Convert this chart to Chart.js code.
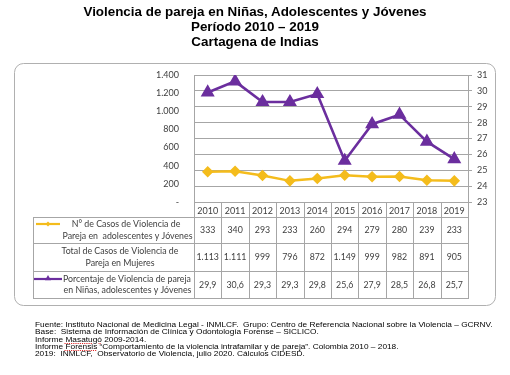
<!DOCTYPE html>
<html>
<head>
<meta charset="utf-8">
<script src="https://cdn.jsdelivr.net/npm/chart.js@4/dist/chart.umd.min.js"></script>
<style>
    body { margin: 0; background: #fff; }
    #wrap { position: relative; width: 510px; height: 375px; overflow: hidden; }
    #myChart { position: absolute; left: 0; top: 0; }
    #title {
        position: absolute; left: 0; top: 4px; width: 510px; text-align: center;
        font: bold 13.4px "Liberation Sans", Arial, sans-serif; line-height: 15px; color: #000;
    }
    #notes {
        position: absolute; left: 35px; top: 321px;
        font: 7.6px "Liberation Sans", Arial, sans-serif; line-height: 7.35px; color: #000;
        white-space: nowrap;
        transform: scaleX(1.093); transform-origin: 0 0;
    }
    .sp { text-decoration: underline dotted #e02020; text-decoration-thickness: 0.6px; text-underline-offset: 0.5px; }
</style>
</head>
<body>
<div id="wrap">
    <canvas id="myChart" width="510" height="375"></canvas>
    <div id="title">Violencia de pareja en Niñas, Adolescentes y Jóvenes<br>Período 2010 – 2019<br>Cartagena de Indias</div>
    <div id="notes">
        Fuente: Instituto Nacional de Medicina Legal - INMLCF.&nbsp; Grupo: Centro de Referencia Nacional sobre la Violencia – GCRNV.<br>
        Base:&nbsp; Sistema de Información de Clínica y Odontología Forense – SICLICO.<br>
        Informe <span class="sp">Masatugó</span> 2009-2014.<br>
        Informe <span class="sp">Forensis</span> “Comportamiento de la violencia intrafamilar y de pareja”. Colombia 2010 – 2018.<br>
        2019:&nbsp; INMLCF,&nbsp; Observatorio de Violencia, julio 2020. Cálculos CIDESD.
    </div>
</div>
<script>
        var years = ['2010', '2011', '2012', '2013', '2014', '2015', '2016', '2017', '2018', '2019'];
        var casosJovenes = [333, 340, 293, 233, 260, 294, 279, 280, 239, 233];
        var casosMujeres = [1113, 1111, 999, 796, 872, 1149, 999, 982, 891, 905];
        var porcentaje = [29.9, 30.6, 29.3, 29.3, 29.8, 25.6, 27.9, 28.5, 26.8, 25.7];

        var labelJovenes = ['N° de Casos de Violencia de', 'Pareja en  adolescentes y Jóvenes'];
        var labelMujeres = ['Total de Casos de Violencia de', 'Pareja en Mujeres'];
        var labelPorcentaje = ['Porcentaje de Violencia de pareja', 'en Niñas, adolescentes y Jóvenes'];

        var yellow = '#F4BC1C';
        var purple = '#6B2E9E';
        var lineGray = '#A6A6A6';
        var textGray = '#404040';
        var tableFont = '8.8px Lato, "Open Sans", sans-serif';

        // 1113 -> "1.113"
        function miles(v) {
            var s = String(v);
            return s.replace(/\B(?=(\d{3})+(?!\d))/g, '.');
        }
        function coma(v) {
            return v.toFixed(1).replace('.', ',');
        }

        function tri(ctx, x, y, r) {
            ctx.beginPath();
            ctx.moveTo(x, y - r);
            ctx.lineTo(x + r * 0.866, y + r * 0.5);
            ctx.lineTo(x - r * 0.866, y + r * 0.5);
            ctx.closePath();
            ctx.fill();
        }
        function diamond(ctx, x, y, r) {
            ctx.beginPath();
            ctx.moveTo(x - r, y);
            ctx.lineTo(x, y - r);
            ctx.lineTo(x + r, y);
            ctx.lineTo(x, y + r);
            ctx.closePath();
            ctx.fill();
        }

        // rounded frame behind the chart
        var framePlugin = {
            id: 'frame',
            beforeDraw: function (chart) {
                var ctx = chart.ctx;
                ctx.save();
                ctx.strokeStyle = '#B0B0B0';
                ctx.lineWidth = 1;
                ctx.beginPath();
                ctx.roundRect(14.5, 63.5, 481, 242, 9);
                ctx.stroke();
                ctx.restore();
            }
        };

        // data table under the plot
        var tablePlugin = {
            id: 'dataTable',
            afterDraw: function (chart) {
                var ctx = chart.ctx;
                var xs = chart.scales.x;
                var left = chart.chartArea.left;
                var right = chart.chartArea.right;
                var top = chart.chartArea.top;
                var bottom = chart.chartArea.bottom;
                var cw = (right - left) / years.length;
                var rows = [bottom, 217, 243, 271, 298];
                var labelLeft = 33;

                ctx.save();
                ctx.strokeStyle = lineGray;
                ctx.lineWidth = 1;
                ctx.beginPath();
                // plot sides
                ctx.moveTo(Math.round(left) + 0.5, top);
                ctx.lineTo(Math.round(left) + 0.5, rows[4]);
                ctx.moveTo(Math.round(right) + 0.5, top);
                ctx.lineTo(Math.round(right) + 0.5, rows[4]);
                // column separators
                for (var i = 1; i < years.length; i++) {
                    var x = Math.round(left + i * cw) + 0.5;
                    ctx.moveTo(x, rows[0]);
                    ctx.lineTo(x, rows[4]);
                }
                // horizontal rules
                for (var r = 1; r < rows.length; r++) {
                    ctx.moveTo(labelLeft, rows[r] + 0.5);
                    ctx.lineTo(Math.round(right) + 1, rows[r] + 0.5);
                }
                ctx.moveTo(labelLeft + 0.5, rows[1]);
                ctx.lineTo(labelLeft + 0.5, rows[4] + 1);
                ctx.stroke();

                // cell values
                ctx.fillStyle = textGray;
                ctx.font = tableFont;
                ctx.textAlign = 'center';
                ctx.textBaseline = 'middle';
                var series = [casosJovenes.map(miles), casosMujeres.map(miles), porcentaje.map(coma)];
                for (var s = 0; s < series.length; s++) {
                    var cy = (rows[s + 1] + rows[s + 2]) / 2 + 0.5;
                    for (var k = 0; k < years.length; k++) {
                        ctx.fillText(series[s][k], xs.getPixelForValue(k), cy);
                    }
                }

                // row labels
                var labels = [labelJovenes, labelMujeres, labelPorcentaje];
                var centers = [[126, 127.5], [120, 120], [127, 127.5]];
                for (var j = 0; j < labels.length; j++) {
                    var my = (rows[j + 1] + rows[j + 2]) / 2;
                    ctx.fillText(labels[j][0], centers[j][0], my - 5.5);
                    ctx.fillText(labels[j][1], centers[j][1], my + 6);
                }

                // legend keys
                ctx.lineWidth = 2.2;
                ctx.strokeStyle = yellow;
                ctx.fillStyle = yellow;
                ctx.beginPath();
                ctx.moveTo(36, 224);
                ctx.lineTo(60, 224);
                ctx.stroke();
                diamond(ctx, 48, 224, 2.5);

                ctx.strokeStyle = purple;
                ctx.fillStyle = purple;
                ctx.beginPath();
                ctx.moveTo(34, 279);
                ctx.lineTo(62, 279);
                ctx.stroke();
                tri(ctx, 48, 278.5, 3.5);
                ctx.restore();
            }
        };

        var ctx = document.getElementById('myChart').getContext('2d');
        var myChart = new Chart(ctx, {
            type: 'line',
            data: {
                labels: years,
                datasets: [
                    {
                        label: labelJovenes.join(' '),
                        data: casosJovenes,
                        yAxisID: 'y',
                        borderColor: yellow,
                        backgroundColor: yellow,
                        borderWidth: 2.5,
                        pointStyle: 'rectRot',
                        pointRadius: 4,
                        pointHoverRadius: 4,
                        tension: 0,
                    },
                    {
                        label: labelPorcentaje.join(' '),
                        data: porcentaje,
                        yAxisID: 'y1',
                        borderColor: purple,
                        backgroundColor: purple,
                        borderWidth: 2.6,
                        pointStyle: 'triangle',
                        pointRadius: 5.5,
                        pointHoverRadius: 5.5,
                        tension: 0,
                    }
                ]
            },
            options: {
                responsive: false,
                animation: false,
                layout: {
                    padding: { top: 75, left: 0, right: 0, bottom: 0 }
                },
                plugins: {
                    legend: { display: false },
                    tooltip: { enabled: false }
                },
                scales: {
                    x: {
                        offset: true,
                        grid: { display: false, tickLength: 0 },
                        border: { display: false },
                        ticks: {
                            color: textGray,
                            font: { family: 'Lato', size: 9 },
                            padding: 4,
                            maxRotation: 0,
                        },
                        afterFit: function (scale) { scale.height = 173; }
                    },
                    y: {
                        position: 'left',
                        min: 0,
                        max: 1400,
                        grid: { display: false, tickLength: 0 },
                        border: { display: false },
                        ticks: {
                            stepSize: 200,
                            color: textGray,
                            font: { family: 'Lato', size: 9 },
                            padding: 15,
                            callback: function (v) { return v === 0 ? '-' : miles(v); }
                        },
                        afterFit: function (scale) { scale.width = 194; }
                    },
                    y1: {
                        position: 'right',
                        min: 23,
                        max: 31,
                        grid: {
                            color: lineGray,
                            lineWidth: 1,
                            tickLength: 4,
                        },
                        border: { display: false },
                        ticks: {
                            stepSize: 1,
                            color: textGray,
                            font: { family: 'Lato', size: 9 },
                            padding: 5,
                        },
                        afterFit: function (scale) { scale.width = 42; }
                    }
                }
            },
            plugins: [framePlugin, tablePlugin]
        });
</script>
</body>
</html>
